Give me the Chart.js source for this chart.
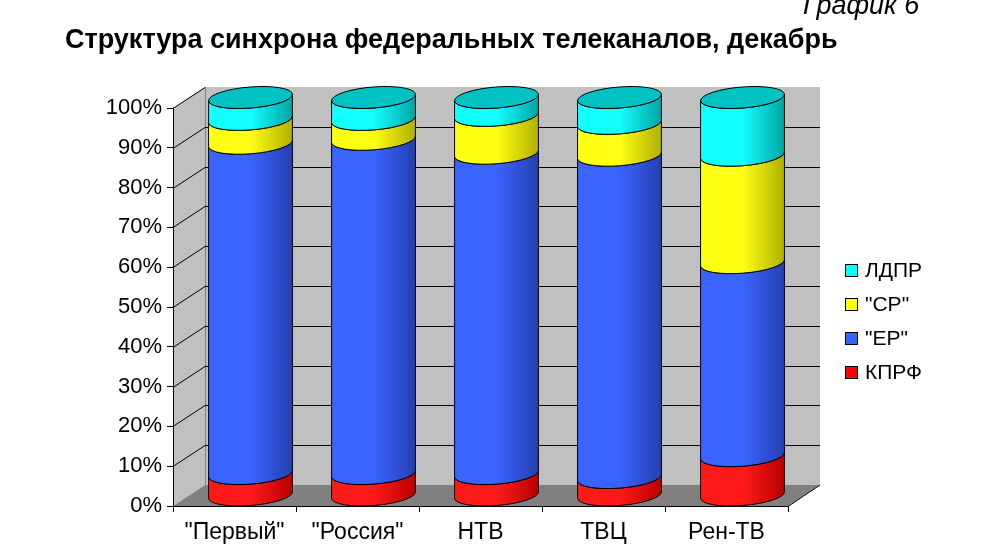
<!DOCTYPE html>
<html>
<head>
<meta charset="utf-8">
<script src="https://cdn.jsdelivr.net/npm/chart.js@4"></script>
<style>
  body { margin: 0; background: #fff; font-family: "Liberation Sans", Arial, sans-serif; }
  #wrap { position: relative; width: 1000px; height: 560px; overflow: hidden; }
  #num { position: absolute; left: 803px; top: -8px; font-size: 27px; line-height: 1; font-style: italic; color: #000; white-space: nowrap; }
  #title { position: absolute; left: 65px; top: 26px; font-size: 27px; line-height: 1; font-weight: bold; color: #000; white-space: nowrap; }
  #legend { position: absolute; left: 845px; top: 253px; }
  .item { height: 34px; display: flex; align-items: center; font-size: 21px; color: #000; }
  .box { width: 11px; height: 11px; border: 1px solid #000; margin-right: 7px; }
</style>
</head>
<body>
<div id="wrap">
  <canvas id="chart" width="1000" height="560"></canvas>
  <div id="num">График 6</div>
  <div id="title">Структура синхрона федеральных телеканалов, декабрь</div>
  <div id="legend"></div>
</div>
<script>
const channels = ['"Первый"', '"Россия"', 'НТВ', 'ТВЦ', 'Рен-ТВ'];
const kprf = [5.5, 5.5, 5.5, 4.5, 10];
const er = [83, 84, 80.5, 81, 48.5];
const sr = [6, 5, 9.5, 8, 27];
const ldpr = [5.5, 5.5, 4.5, 6.5, 14.5];
const yTicks = [0, 10, 20, 30, 40, 50, 60, 70, 80, 90, 100];

const series = [
  { label: 'КПРФ', data: kprf, light: '#ff1a1a', dark: '#b80000', legend: '#ff0000' },
  { label: '"ЕР"', data: er, light: '#3a64ff', dark: '#2440b0', legend: '#3366ff' },
  { label: '"СР"', data: sr, light: '#ffff14', dark: '#b0b000', legend: '#ffff00' },
  { label: 'ЛДПР', data: ldpr, light: '#14ffff', dark: '#00a4a4', legend: '#00ffff' }
];

// fake 3D depth of the walls; cylinders sit half way back
const depthX = 32, depthY = -21;
const RY = 10.5;
const TILT = -0.08;

const legendEl = document.getElementById('legend');
series.slice().reverse().forEach(s => {
  const row = document.createElement('div');
  row.className = 'item';
  row.innerHTML = '<span class="box" style="background:' + s.legend + '"></span>' + s.label;
  legendEl.appendChild(row);
});

// back wall, side wall, floor and wall gridlines
const walls = {
  id: 'walls',
  beforeDraw(chart) {
    const { ctx, chartArea: a, scales } = chart;
    const y = scales.y;
    ctx.save();
    ctx.fillStyle = '#c0c0c0';
    ctx.fillRect(a.left + depthX, a.top + depthY, a.right - a.left, a.bottom - a.top);
    ctx.beginPath();
    ctx.moveTo(a.left, a.top);
    ctx.lineTo(a.left + depthX, a.top + depthY);
    ctx.lineTo(a.left + depthX, a.bottom + depthY);
    ctx.lineTo(a.left, a.bottom);
    ctx.closePath();
    ctx.fill();
    ctx.fillStyle = '#808080';
    ctx.beginPath();
    ctx.moveTo(a.left, a.bottom);
    ctx.lineTo(a.left + depthX, a.bottom + depthY);
    ctx.lineTo(a.right + depthX, a.bottom + depthY);
    ctx.lineTo(a.right, a.bottom);
    ctx.closePath();
    ctx.fill();
    ctx.strokeStyle = '#808080';
    ctx.lineWidth = 1;
    ctx.beginPath();
    ctx.moveTo(a.left + depthX + 0.5, a.top + depthY);
    ctx.lineTo(a.left + depthX + 0.5, a.bottom + depthY);
    ctx.stroke();
    ctx.strokeStyle = '#000';
    yTicks.forEach(v => {
      if (v === 0) return;
      const py = Math.round(y.getPixelForValue(v)) + 0.5;
      ctx.beginPath();
      ctx.moveTo(a.left, py);
      ctx.lineTo(a.left + depthX, py + depthY);
      if (v < 100) ctx.lineTo(a.right + depthX, py + depthY);
      ctx.stroke();
    });
    ctx.beginPath();
    ctx.moveTo(a.right, a.bottom + 0.5);
    ctx.lineTo(a.right + depthX, a.bottom + depthY);
    ctx.stroke();
    ctx.restore();
  }
};

function sideFill(ctx, cx, rx, ds) {
  const g = ctx.createLinearGradient(cx - rx, 0, cx + rx, 0);
  g.addColorStop(0, ds.light);
  g.addColorStop(0.5, ds.light);
  g.addColorStop(1, ds.dark);
  return g;
}

// each stacked segment drawn as a piece of a cylinder from the bar element geometry
const cylinders = {
  id: 'cylinders',
  beforeDatasetsDraw(chart) {
    const ctx = chart.ctx;
    const n = chart.data.datasets.length;
    ctx.save();
    ctx.translate(depthX / 2, 0);
    ctx.strokeStyle = '#000';
    ctx.lineWidth = 1;
    chart.data.datasets.forEach((ds, i) => {
      chart.getDatasetMeta(i).data.forEach(bar => {
        const cx = bar.x, rx = bar.width / 2;
        const yTop = Math.min(bar.y, bar.base), yBot = Math.max(bar.y, bar.base);
        ctx.beginPath();
        ctx.ellipse(cx, yTop - RY, rx, RY, TILT, Math.PI, 0, true);
        ctx.ellipse(cx, yBot - RY, rx, RY, TILT, 0, Math.PI, false);
        ctx.closePath();
        ctx.fillStyle = sideFill(ctx, cx, rx, ds);
        ctx.fill();
        ctx.stroke();
        if (i === n - 1) {
          ctx.beginPath();
          ctx.ellipse(cx, yTop - RY, rx, RY, TILT, 0, Math.PI * 2);
          ctx.fillStyle = '#00c2c2';
          ctx.fill();
          ctx.stroke();
        }
      });
    });
    ctx.restore();
    return false;
  }
};

new Chart(document.getElementById('chart'), {
  type: 'bar',
  data: {
    labels: channels,
    datasets: series.map(s => ({
      label: s.label,
      data: s.data,
      light: s.light,
      dark: s.dark,
      backgroundColor: s.legend,
      borderColor: '#000',
      borderWidth: 1,
      barPercentage: 0.855,
      categoryPercentage: 0.8
    }))
  },
  options: {
    responsive: false,
    animation: false,
    layout: { padding: { top: 108, right: 212, bottom: 0, left: 0 } },
    plugins: { legend: { display: false }, tooltip: { enabled: false } },
    scales: {
      x: {
        stacked: true,
        grid: { display: true, drawOnChartArea: false, offset: true, color: '#000', tickLength: 6 },
        border: { color: '#000' },
        ticks: { color: '#000', font: { family: 'Liberation Sans', size: 23 }, padding: 7 },
        afterFit(scale) { scale.height = 54; }
      },
      y: {
        stacked: true,
        min: 0,
        max: 100,
        afterBuildTicks(scale) { scale.ticks = yTicks.map(v => ({ value: v })); },
        grid: { drawOnChartArea: false, color: '#000', tickLength: 6 },
        border: { color: '#000' },
        ticks: {
          color: '#000',
          font: { family: 'Liberation Sans', size: 22 },
          padding: 5,
          callback: v => v + '%'
        },
        afterFit(scale) { scale.width = 173; }
      }
    }
  },
  plugins: [walls, cylinders]
});
</script>
</body>
</html>
